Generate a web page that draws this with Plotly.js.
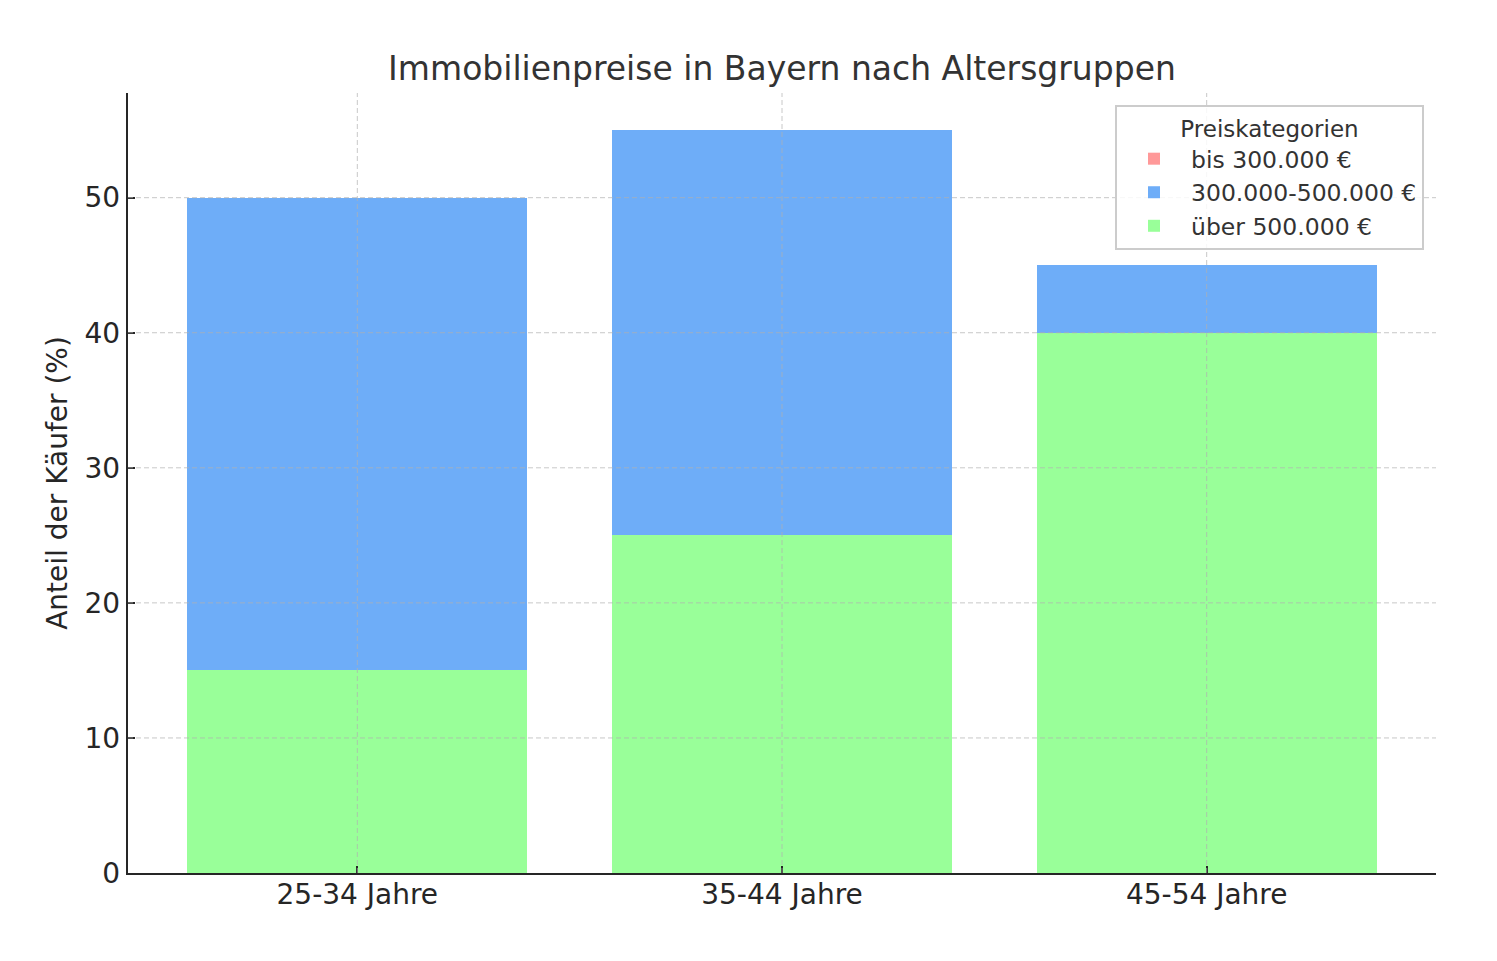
<!DOCTYPE html>
<html>
<head>
<meta charset="utf-8">
<script src="https://cdn.plot.ly/plotly-3.0.1.min.js"></script>
<style>html,body{margin:0;padding:0;background:#fff;}#chart{width:1497px;height:961px;}</style>
</head>
<body>
<div id="chart"></div>
<script>
const categories = ["25-34 Jahre", "35-44 Jahre", "45-54 Jahre"];
const seriesNames = ["bis 300.000 €", "300.000-500.000 €", "über 500.000 €"];
const bis300 = [0, 0, 0];
const mid300to500 = [35, 30, 5];
const ueber500 = [15, 25, 40];
const yTicks = [0, 10, 20, 30, 40, 50];
const colors = {red: "#ff9999", blue: "#6eadf8", green: "#99ff99"};

const FONT = "DejaVu Sans, sans-serif";
const xIdx = categories.map((c, i) => i);

const traces = [
  {type: "bar", name: seriesNames[2], x: xIdx, y: ueber500, width: 0.8,
   marker: {color: colors.green, line: {width: 0}}},
  {type: "bar", name: seriesNames[1], x: xIdx, y: mid300to500, width: 0.8,
   marker: {color: colors.blue, line: {width: 0}}},
  {type: "bar", name: seriesNames[0], x: xIdx, y: bis300, width: 0.8,
   marker: {color: colors.red, line: {width: 0}}}
];

const gridShapes = [];
yTicks.slice(1).forEach(v => gridShapes.push({type: "line", xref: "paper", yref: "y", x0: 0, x1: 1, y0: v, y1: v,
  layer: "above", line: {color: "rgba(176,176,176,0.7)", width: 1, dash: "5px,3px"}}));
xIdx.forEach(v => gridShapes.push({type: "line", xref: "x", yref: "paper", x0: v, x1: v, y0: 0, y1: 1,
  layer: "above", line: {color: "rgba(176,176,176,0.7)", width: 1, dash: "5px,3px"}}));

const layout = {
  width: 1497, height: 961,
  margin: {l: 128, r: 61, t: 93, b: 88},
  paper_bgcolor: "#fff", plot_bgcolor: "#fff",
  font: {family: FONT, color: "#262626"},
  barmode: "stack",
  showlegend: true,
  title: {text: "Immobilienpreise in Bayern nach Altersgruppen", font: {family: FONT, size: 33, color: "#333"},
          x: 0.5, xanchor: "center", xref: "paper", y: 1 - 68/961, yref: "container", yanchor: "middle"},
  xaxis: {range: [-0.54, 2.54], tickmode: "array", tickvals: xIdx, ticktext: categories,
          showgrid: false, zeroline: false, showline: true, linecolor: "#262626", linewidth: 2.2,
          ticks: "inside", ticklen: 7, tickwidth: 2, tickcolor: "#262626", ticklabelstandoff: -5,
          tickfont: {family: FONT, size: 28, color: "#262626"}, layer: "above traces"},
  yaxis: {range: [0, 57.75], tickmode: "array", tickvals: yTicks,
          showgrid: false, zeroline: false, showline: true, linecolor: "#262626", linewidth: 2.2,
          ticks: "inside", ticklen: 7, tickwidth: 2, tickcolor: "#262626",
          tickfont: {family: FONT, size: 28, color: "#262626"}, layer: "above traces",
          title: {text: "Anteil der Käufer (%)", font: {family: FONT, size: 28, color: "#262626"}, standoff: 9}},
  legend: {x: 0.7546, y: 0.9846, xanchor: "left", yanchor: "top", traceorder: "reversed",
           bgcolor: "rgba(255,255,255,0.85)", bordercolor: "#cccccc", borderwidth: 2,
           font: {family: FONT, size: 23.5, color: "#333"},
           title: {text: "Preiskategorien", side: "top center", font: {family: FONT, size: 23, color: "#333"}},
           itemwidth: 64},
  shapes: gridShapes
};

Plotly.newPlot("chart", traces, layout, {displayModeBar: false, staticPlot: true});
</script>
</body>
</html>
